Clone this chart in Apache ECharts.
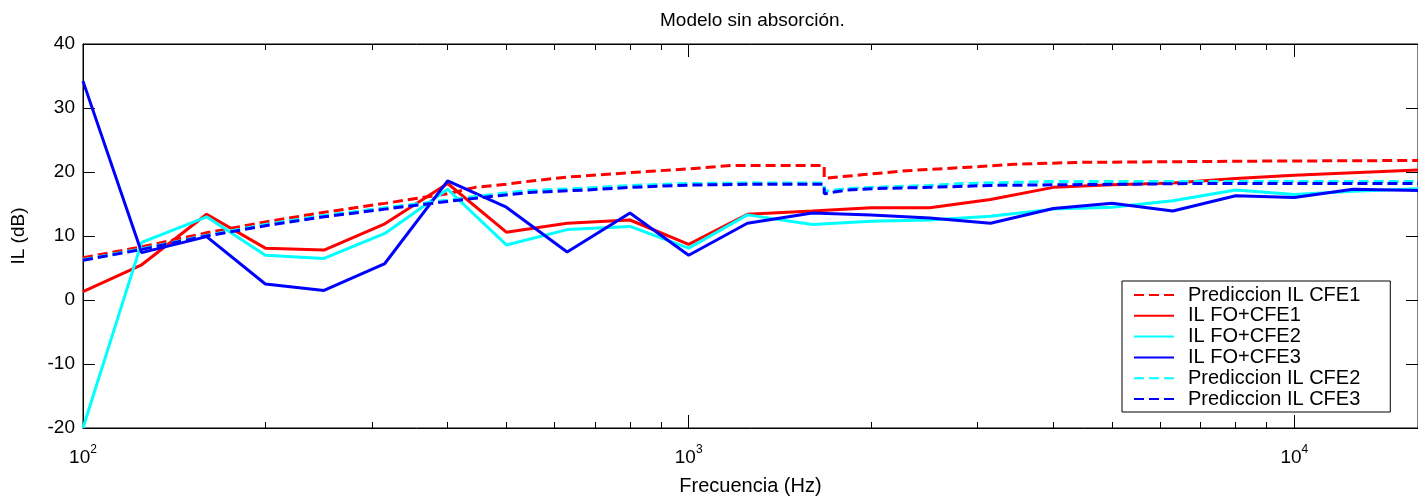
<!DOCTYPE html>
<html>
<head>
<meta charset="utf-8">
<title>Modelo sin absorción.</title>
<script src="https://cdn.jsdelivr.net/npm/echarts@6.0.0/dist/echarts.min.js"></script>
<style>
	html, body { margin: 0; padding: 0; background: #fff; }
	#main { width: 1418px; height: 501px; }
</style>
</head>
<body>
<div id="main"></div>
<script>
// bandas de tercio de octava (Hz)
var freqs = [100, 125, 160, 200, 250, 315, 400, 500, 630, 800, 1000, 1250, 1600,
	2000, 2500, 3150, 4000, 5000, 6300, 8000, 10000, 12500, 16000];

// medidas IL (dB)
var ilFoCfe1 = [1.3, 5.5, 13.4, 8.1, 7.8, 11.9, 18.2, 10.6, 12.0, 12.5, 8.7, 13.4, 13.9,
	14.4, 14.4, 15.7, 17.6, 18.0, 18.3, 19.0, 19.5, 19.9, 20.3];
var ilFoCfe2 = [-20, 9.0, 13.0, 7.0, 6.5, 10.4, 17.3, 8.6, 11.0, 11.5, 8.1, 13.3, 11.8,
	12.3, 12.5, 13.1, 14.2, 14.5, 15.5, 17.2, 16.5, 17.0, 17.4];
var ilFoCfe3 = [34.2, 7.4, 9.9, 2.5, 1.5, 5.7, 18.6, 14.5, 7.5, 13.6, 7.0, 12.0, 13.6,
	13.3, 12.8, 12.0, 14.3, 15.1, 13.9, 16.3, 16.0, 17.3, 17.1];

// predicciones (frecuencia, IL)
var predFreq1 = [100, 125, 160, 200, 250, 315, 400, 444, 500, 550, 630, 800, 1000, 1173,
	1674, 1674, 1946, 2291, 2843, 3437, 4365, 8730, 16000];
var predIL1 = [6.6, 8.3, 10.5, 12.2, 13.7, 15.1, 16.6, 17.6, 18.1, 18.6, 19.2, 19.9, 20.5, 21.0,
	21.0, 19.0, 19.6, 20.2, 20.7, 21.2, 21.5, 21.7, 21.8];
var predFreq2 = [100, 125, 160, 200, 250, 315, 400, 485, 545, 682, 803, 996, 1334,
	1674, 1674, 1826, 2023, 2500, 2843, 3900, 16000];
var predIL2 = [6.3, 8.0, 10.1, 11.8, 13.2, 14.4, 15.6, 16.6, 17.1, 17.5, 17.9, 18.2, 18.3,
	18.3, 17.0, 17.4, 17.6, 17.9, 18.2, 18.5, 18.5];
var predFreq3 = [100, 125, 160, 200, 250, 315, 400, 485, 545, 682, 803, 996, 1334,
	1674, 1674, 1826, 2023, 2500, 3140, 6950, 16000];
var predIL3 = [6.2, 7.9, 10.0, 11.6, 13.0, 14.2, 15.4, 16.3, 16.8, 17.2, 17.6, 17.95, 18.1,
	18.1, 16.6, 17.2, 17.4, 17.6, 17.9, 18.2, 18.2];

// ticks del eje logaritmico
var majorTicks = [100, 1000, 10000];
var minorTicks = [200, 300, 400, 500, 600, 700, 800, 900,
	2000, 3000, 4000, 5000, 6000, 7000, 8000, 9000];

var yTicks = [-20, -10, 0, 10, 20, 30, 40];

function pairs(xs, ys) {
	var out = [];
	for (var i = 0; i < xs.length; i++) {
		out.push([xs[i], ys[i]]);
	}
	return out;
}

var FONT = 'Liberation Sans';
var X_MIN = 100, X_MAX = 16000;

function logAxis(position, ticks, len, showLabel, showLine) {
	return {
		type : 'log',
		logBase : 10,
		min : X_MIN,
		max : X_MAX,
		position : position,
		axisLine : { show : showLine, onZero : false, lineStyle : { color : '#000', width : 1 } },
		axisTick : { show : true, inside : true, length : len, customValues : ticks,
			lineStyle : { color : '#000', width : 1 } },
		axisLabel : { show : showLabel },
		splitLine : { show : false }
	};
}

var xBottom = logAxis('bottom', majorTicks, 13, true, true);
xBottom.axisLabel = {
	show : true,
	customValues : majorTicks,
	margin : 16,
	formatter : function(v) {
		var e = Math.round(Math.log(v) / Math.LN10);
		return '{b|10}{s|' + e + '}';
	},
	rich : {
		b : { fontFamily : FONT, fontSize : 19, color : '#000', verticalAlign : 'bottom' },
		s : { fontFamily : FONT, fontSize : 12, color : '#000', padding : [0, 0, 11, 0] }
	}
};
xBottom.name = 'Frecuencia (Hz)';
xBottom.nameLocation = 'middle';
xBottom.nameGap = 48;
xBottom.nameTextStyle = { fontFamily : FONT, fontSize : 20, color : '#000' };

function valAxis(position, showLabel) {
	return {
		type : 'value',
		min : -20,
		max : 40,
		interval : 10,
		position : position,
		axisLine : { show : true, onZero : false, lineStyle : { color : '#000', width : 1 } },
		axisTick : { show : true, inside : true, length : 12, lineStyle : { color : '#000' } },
		axisLabel : { show : showLabel, margin : 8, fontFamily : FONT, fontSize : 19, color : '#000',
			customValues : yTicks },
		splitLine : { show : false }
	};
}
var yLeft = valAxis('left', true);
yLeft.name = 'IL (dB)';
yLeft.nameLocation = 'middle';
yLeft.nameGap = 55;
yLeft.nameTextStyle = { fontFamily : FONT, fontSize : 19, color : '#000' };

function lineSeries(name, data, color, dashed) {
	return {
		name : name,
		type : 'line',
		data : data,
		xAxisIndex : 0,
		yAxisIndex : 0,
		symbol : 'none',
		clip : true,
		lineStyle : { color : color, width : 3, type : dashed ? [10, 5] : 'solid' },
		itemStyle : { color : color }
	};
}

var chart = echarts.init(document.getElementById('main'), null, { renderer : 'canvas' });
chart.setOption({
	animation : false,
	backgroundColor : '#fff',
	title : {
		text : 'Modelo sin absorción.',
		// centrado sobre el area de dibujo, no sobre el lienzo
		left : 655,
		top : 6,
		textStyle : { fontFamily : FONT, fontSize : 19, fontWeight : 'normal', color : '#000' }
	},
	grid : {
		left : 83,
		right : -5,
		top : 44,
		bottom : 72,
		show : true,
		borderColor : '#000',
		borderWidth : 1,
		backgroundColor : '#fff'
	},
	legend : {
		orient : 'vertical',
		left : 1122,
		top : 281,
		padding : [4, 30, 3, 11],
		itemWidth : 40,
		itemHeight : 14,
		itemGap : 0.8,
		backgroundColor : '#fff',
		borderColor : '#000',
		borderWidth : 1,
		borderRadius : 0,
		itemStyle : { opacity : 0 },
		textStyle : { fontFamily : FONT, fontSize : 20, color : '#000', padding : [0, 0, 0, 9] },
		data : ['Prediccion IL CFE1', 'IL FO+CFE1', 'IL FO+CFE2', 'IL FO+CFE3',
			'Prediccion IL CFE2', 'Prediccion IL CFE3']
	},
	xAxis : [
		xBottom,
		logAxis('bottom', minorTicks, 6, false, false),
		logAxis('top', majorTicks, 13, false, true),
		logAxis('top', minorTicks, 6, false, false)
	],
	yAxis : [
		yLeft,
		valAxis('right', false)
	],
	series : [
		lineSeries('Prediccion IL CFE1', pairs(predFreq1, predIL1), '#ff0000', true),
		lineSeries('IL FO+CFE1', pairs(freqs, ilFoCfe1), '#ff0000', false),
		lineSeries('IL FO+CFE2', pairs(freqs, ilFoCfe2), '#00ffff', false),
		lineSeries('IL FO+CFE3', pairs(freqs, ilFoCfe3), '#0000ff', false),
		lineSeries('Prediccion IL CFE2', pairs(predFreq2, predIL2), '#00ffff', true),
		lineSeries('Prediccion IL CFE3', pairs(predFreq3, predIL3), '#0000ff', true)
	]
});
</script>
</body>
</html>
